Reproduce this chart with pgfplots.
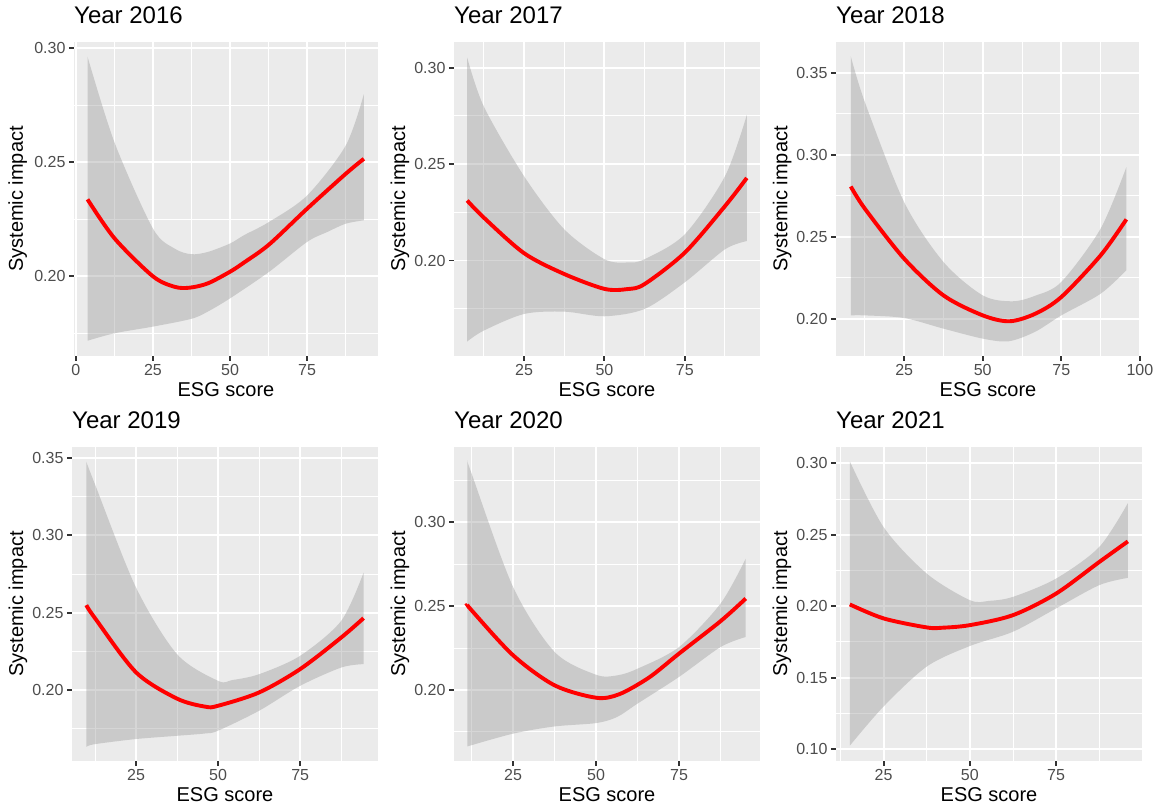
\documentclass[border=0pt]{standalone}
\usepackage{pgfplots}
\pgfplotsset{compat=1.18}
\usepgfplotslibrary{fillbetween}
\usepackage{fontspec}
\setmainfont{Liberation Sans}

\definecolor{ggpanel}{HTML}{EBEBEB}
\definecolor{ggtick}{HTML}{333333}
\definecolor{ggtext}{HTML}{4D4D4D}
\definecolor{ggband}{HTML}{999999}

\newcommand\titsz{\fontsize{24}{28}\selectfont}
\newcommand\labsz{\fontsize{20}{24}\selectfont}
\newcommand\ticksz{\fontsize{16}{19}\selectfont}

\pgfplotsset{
  gg/.style={
    scale only axis,
    anchor=south west,
    height=314pt,
    axis background/.style={fill=ggpanel},
    axis line style={draw=none},
    grid=both,
    major grid style={draw=white, line width=1.9pt},
    minor grid style={draw=white, line width=0.95pt},
    tick align=outside,
    tick pos=left,
    major tick length=5pt,
    minor tick length=0pt,
    every tick/.style={draw=ggtick, line width=1.9pt},
    minor xtick={12.5,37.5,62.5,87.5},
    ticklabel style={font=\ticksz, text=ggtext},
    /pgf/number format/assume math mode=true,
    yticklabel style={/pgf/number format/fixed, /pgf/number format/fixed zerofill, /pgf/number format/precision=2},
    xlabel={ESG score},
    ylabel={Systemic impact},
    xlabel style={font=\labsz, at={(axis description cs:0.5,-0.1274)}, anchor=base},
    ylabel style={font=\labsz, at={(axis description cs:-0.160,0.5)}, anchor=base},
    title style={font=\titsz, inner sep=0pt, at={(axis description cs:0,1)}, anchor=base west, yshift=12.7pt},
  },
  band/.style={fill=ggband, fill opacity=0.4, draw=none},
  fit/.style={draw=red, line width=3.9pt, smooth, no marks},
  edge/.style={draw=none, smooth, no marks},
}

\begin{document}
\begin{tikzpicture}

% ---------------- 2016 ----------------
\begin{axis}[gg, at={(74pt,451pt)}, width=304pt,
  title={Year 2016},
  xmin=-0.58, xmax=97.98, ymin=0.1649, ymax=0.3028,
  xtick={0,25,50,75}, ytick={0.20,0.25,0.30},
  minor ytick={0.175,0.225,0.275},
  ylabel style={at={(axis description cs:-0.168,0.5)}}]
\addplot[edge, name path=up] coordinates {(3.8,0.2964) (12.6,0.2585) (25,0.2209) (32,0.2121) (37.4,0.2096) (42.8,0.2106) (50,0.2143) (54.6,0.2180) (62.7,0.2238) (75,0.2354) (87.5,0.2573) (93.4,0.2799)};
\addplot[edge, name path=lo] coordinates {(3.8,0.1716) (12.6,0.1749) (25,0.1778) (37.4,0.1812) (42.8,0.1844) (50,0.1902) (62.7,0.2019) (75,0.2150) (81.6,0.2194) (87.5,0.2230) (93.4,0.2245)};
\addplot[band] fill between[of=up and lo];
\addplot[fit] coordinates {(3.8,0.2337) (12.6,0.2165) (25,0.1999) (32,0.1953) (36.9,0.1949) (42.8,0.1968) (50,0.2019) (54.6,0.2060) (62.7,0.2139) (75,0.2296) (87.5,0.2449) (93.4,0.2515)};
\end{axis}

% ---------------- 2017 ----------------
\begin{axis}[gg, at={(454pt,451pt)}, width=306pt,
  title={Year 2017},
  xmin=3.2, xmax=98.4, ymin=0.1505, ymax=0.3133,
  xtick={25,50,75}, ytick={0.20,0.25,0.30},
  minor ytick={0.175,0.225,0.275}]
\addplot[edge, name path=up] coordinates {(7.3,0.3052) (12.5,0.2798) (25,0.2437) (37.5,0.2162) (50,0.2007) (57.2,0.1990) (62.5,0.2007) (75,0.2136) (87.5,0.2437) (94.3,0.2755)};
\addplot[edge, name path=lo] coordinates {(7.3,0.1580) (12.5,0.1637) (25,0.1723) (37.5,0.1735) (50,0.1711) (62.5,0.1749) (75,0.1887) (87.5,0.2058) (94.3,0.2101)};
\addplot[band] fill between[of=up and lo];
\addplot[fit] coordinates {(7.3,0.2311) (12.5,0.2222) (25,0.2038) (37.5,0.1930) (50,0.1853) (57.2,0.1852) (62.5,0.1878) (75,0.2041) (87.5,0.2282) (94.3,0.2428)};
\end{axis}

% ---------------- 2018 ----------------
\begin{axis}[gg, at={(836pt,451pt)}, width=304pt,
  title={Year 2018},
  xmin=3.3, xmax=100.05, ymin=0.1772, ymax=0.3689,
  xtick={25,50,75,100}, ytick={0.20,0.25,0.30,0.35},
  minor ytick={0.225,0.275,0.325}]
\addplot[edge, name path=up] coordinates {(8.0,0.3602) (12.5,0.3321) (25,0.2711) (37.5,0.2346) (50,0.2142) (59.4,0.2106) (66.7,0.2140) (75,0.2224) (87.5,0.2549) (95.7,0.2925)};
\addplot[edge, name path=lo] coordinates {(8.0,0.2020) (12.5,0.2020) (25,0.2004) (37.5,0.1939) (50,0.1878) (58.3,0.1862) (66.7,0.1920) (75,0.2020) (87.5,0.2152) (95.7,0.2295)};
\addplot[band] fill between[of=up and lo];
\addplot[fit] coordinates {(8.0,0.2807) (12.5,0.2671) (25,0.2366) (37.5,0.2142) (50,0.2020) (58.5,0.1984) (66.7,0.2030) (75,0.2132) (87.5,0.2386) (95.7,0.2606)};
\end{axis}

% ---------------- 2019 ----------------
\begin{axis}[gg, at={(72pt,46pt)}, width=306pt,
  title={Year 2019},
  xmin=5.5, xmax=98.7, ymin=0.1542, ymax=0.3571,
  xtick={25,50,75}, ytick={0.20,0.25,0.30,0.35},
  minor ytick={0.175,0.225,0.275,0.325}]
\addplot[edge, name path=up] coordinates {(9.85,0.3476) (12.5,0.3330) (25,0.2663) (37.5,0.2232) (50,0.2060) (54.3,0.2065) (62.5,0.2103) (75,0.2222) (87.5,0.2448) (94.3,0.2759)};
\addplot[edge, name path=lo] coordinates {(9.85,0.1634) (12.5,0.1651) (25,0.1684) (37.5,0.1705) (46.1,0.1720) (50,0.1738) (62.5,0.1867) (75,0.2028) (87.5,0.2146) (94.3,0.2168)};
\addplot[band] fill between[of=up and lo];
\addplot[fit] coordinates {(9.85,0.2549) (12.5,0.2465) (25,0.2115) (37.5,0.1945) (46.1,0.1893) (50,0.1899) (62.5,0.1985) (75,0.2136) (87.5,0.2340) (94.3,0.2465)};
\end{axis}

% ---------------- 2020 ----------------
\begin{axis}[gg, at={(454pt,46pt)}, width=306pt,
  title={Year 2020},
  xmin=7.2, xmax=99.4, ymin=0.1577, ymax=0.3448,
  xtick={25,50,75}, ytick={0.20,0.25,0.30},
  minor ytick={0.175,0.225,0.275,0.325}]
\addplot[edge, name path=up] coordinates {(11.25,0.3365) (12.5,0.3290) (25,0.2614) (37.5,0.2227) (50,0.2091) (56.3,0.2087) (62.5,0.2127) (75,0.2256) (87.5,0.2515) (95.1,0.2783)};
\addplot[edge, name path=lo] coordinates {(11.25,0.1664) (25,0.1740) (37.5,0.1783) (50,0.1803) (56.3,0.1839) (62.5,0.1919) (75,0.2078) (87.5,0.2256) (95.1,0.2316)};
\addplot[band] fill between[of=up and lo];
\addplot[fit] coordinates {(11.25,0.2509) (12.5,0.2475) (25,0.2207) (37.5,0.2028) (50,0.1954) (57,0.1975) (66,0.2075) (75,0.2217) (87.5,0.2410) (95.1,0.2545)};
\end{axis}

% ---------------- 2021 ----------------
\begin{axis}[gg, at={(836pt,46pt)}, width=306pt,
  title={Year 2021},
  xmin=11.2, xmax=99.9, ymin=0.0916, ymax=0.3114,
  xtick={25,50,75}, ytick={0.10,0.15,0.20,0.25,0.30},
  minor ytick={0.125,0.175,0.225,0.275}]
\addplot[edge, name path=up] coordinates {(15.2,0.3014) (25,0.2553) (37.5,0.2228) (50,0.2042) (55.6,0.2037) (62.5,0.2065) (75,0.2193) (87.5,0.2414) (95.8,0.2721)};
\addplot[edge, name path=lo] coordinates {(15.2,0.1023) (25,0.1298) (37.5,0.1577) (50,0.1721) (62.5,0.1821) (75,0.1984) (87.5,0.2147) (95.8,0.2198)};
\addplot[band] fill between[of=up and lo];
\addplot[fit] coordinates {(15.2,0.2012) (25,0.1914) (37.5,0.1851) (42.1,0.1849) (50,0.1867) (62.5,0.1937) (75,0.2088) (87.5,0.2309) (95.8,0.2453)};
\end{axis}

% the page is exactly 1154pt x 807pt
\pgfresetboundingbox
\path[use as bounding box] (0,0) rectangle (1154pt,807pt);
\end{tikzpicture}
\end{document}
